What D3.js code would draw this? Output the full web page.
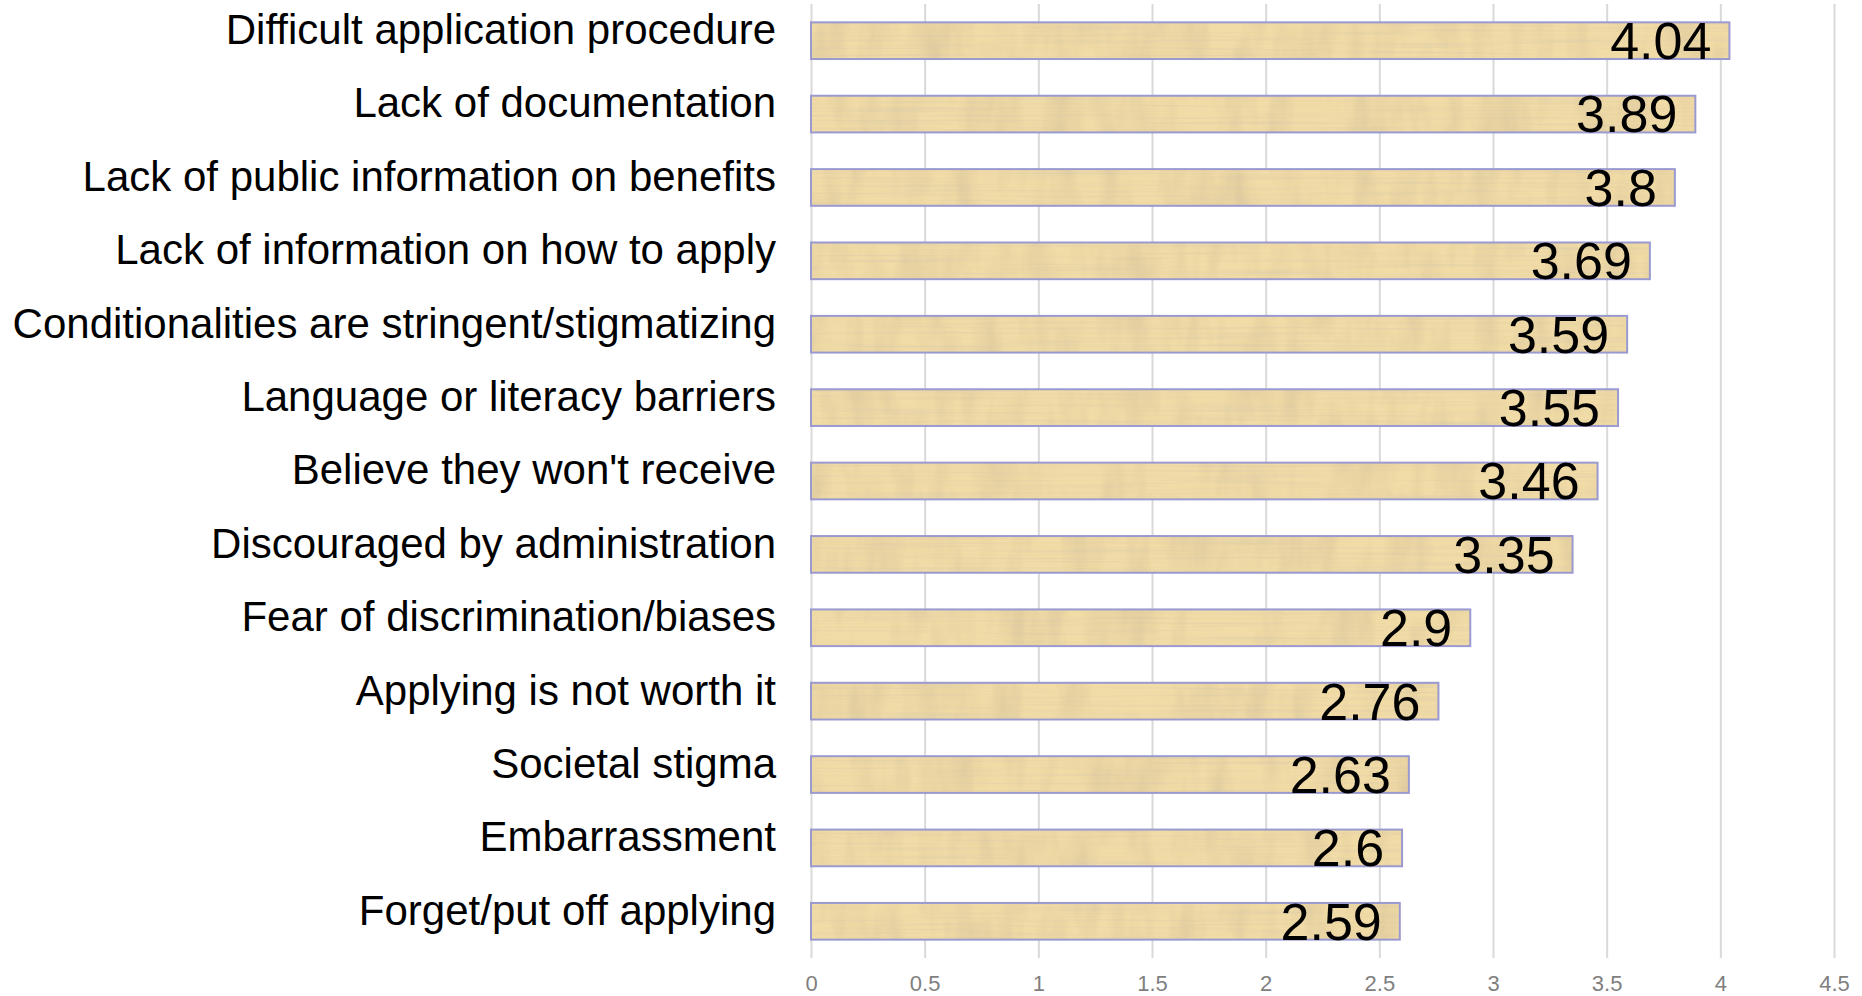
<!DOCTYPE html>
<html>
<head>
<meta charset="utf-8">
<script src="https://cdn.jsdelivr.net/npm/d3@7"></script>
<style>
  html, body { margin: 0; padding: 0; background: #fff; }
  svg { display: block; font-family: "Liberation Sans", Arial, Helvetica, sans-serif; }
</style>
</head>
<body>
<svg id="chart" width="1862" height="996"></svg>
<script>
// Reasons given for not applying for benefits, mean score
const categories = [
  "Difficult application procedure",
  "Lack of documentation",
  "Lack of public information on benefits",
  "Lack of information on how to apply",
  "Conditionalities are stringent/stigmatizing",
  "Language or literacy barriers",
  "Believe they won't receive",
  "Discouraged by administration",
  "Fear of discrimination/biases",
  "Applying is not worth it",
  "Societal stigma",
  "Embarrassment",
  "Forget/put off applying"
];
const values = [4.04, 3.89, 3.8, 3.69, 3.59, 3.55, 3.46, 3.35, 2.9, 2.76, 2.63, 2.6, 2.59];
const xTicks = [0, 0.5, 1, 1.5, 2, 2.5, 3, 3.5, 4, 4.5];
const xTickLabels = ["0", "0.5", "1", "1.5", "2", "2.5", "3", "3.5", "4", "4.5"];

const svg = d3.select("#chart");
const plot = { left: 811, right: 1834, top: 4, bottom: 958 };

const x = d3.scaleLinear().domain([0, 4.5]).range([plot.left, plot.right]);
const y = d3.scaleBand().domain(categories).range([plot.top, plot.bottom])
  .paddingInner(0.5).paddingOuter(0.25);

// Parchment texture for the bar fills: soft vertical fibres plus faint horizontal grain
const defs = svg.append("defs");
const f = defs.append("filter").attr("id", "parchment")
  .attr("filterUnits", "userSpaceOnUse")
  .attr("x", 0).attr("y", 0).attr("width", 1862).attr("height", 996);
f.append("feTurbulence").attr("type", "fractalNoise")
  .attr("baseFrequency", "0.04 0.012").attr("numOctaves", 3).attr("seed", 11).attr("result", "noise");
f.append("feColorMatrix").attr("in", "noise").attr("type", "matrix")
  .attr("values", "0 0 0 0 0.66  0 0 0 0 0.53  0 0 0 0 0.32  1.1 0 0 0 -0.44")
  .attr("result", "streaks");
f.append("feTurbulence").attr("type", "fractalNoise")
  .attr("baseFrequency", "0.006 0.40").attr("numOctaves", 2).attr("seed", 3).attr("result", "noise2");
f.append("feColorMatrix").attr("in", "noise2").attr("type", "matrix")
  .attr("values", "0 0 0 0 0.62  0 0 0 0 0.55  0 0 0 0 0.42  0.9 0 0 0 -0.42")
  .attr("result", "lines");
f.append("feComposite").attr("in", "streaks").attr("in2", "SourceGraphic").attr("operator", "in").attr("result", "s2");
f.append("feComposite").attr("in", "lines").attr("in2", "SourceGraphic").attr("operator", "in").attr("result", "l2");
const merge = f.append("feMerge");
merge.append("feMergeNode").attr("in", "SourceGraphic");
merge.append("feMergeNode").attr("in", "s2");
merge.append("feMergeNode").attr("in", "l2");

// Vertical gridlines and value-axis labels
const xAxis = d3.axisBottom(x)
  .tickValues(xTicks)
  .tickFormat((d, i) => xTickLabels[i])
  .tickSize(-(plot.bottom - plot.top))
  .tickPadding(17);
const gx = svg.append("g").attr("transform", `translate(0,${plot.bottom})`).call(xAxis);
gx.select(".domain").remove();
gx.selectAll(".tick line").attr("stroke", "#d9d9d9").attr("stroke-width", 2);
gx.selectAll(".tick text").attr("fill", "#7f7f7f").style("font-size", "22px")
  .style("font-family", "'Liberation Sans', Arial, sans-serif");

// Bars: textured fill, then outline
svg.append("g").attr("filter", "url(#parchment)")
  .selectAll("rect").data(values).join("rect")
  .attr("x", x(0))
  .attr("y", (d, i) => y(categories[i]))
  .attr("width", d => x(d) - x(0))
  .attr("height", y.bandwidth())
  .attr("fill", "#f1dba6");

svg.append("g").selectAll("rect").data(values).join("rect")
  .attr("x", x(0))
  .attr("y", (d, i) => y(categories[i]))
  .attr("width", d => x(d) - x(0))
  .attr("height", y.bandwidth())
  .attr("fill", "none")
  .attr("stroke", "#9a9ad0")
  .attr("stroke-width", 2);

// Category labels
const yAxis = d3.axisLeft(y).tickSize(0).tickPadding(35);
const gy = svg.append("g").attr("transform", `translate(${plot.left},0)`).call(yAxis);
gy.select(".domain").remove();
gy.selectAll(".tick text")
  .attr("dy", "0.08em")
  .attr("fill", "#000")
  .style("font-size", "42px")
  .style("font-family", "'Liberation Sans', Arial, sans-serif");

// Value labels inside bar ends
svg.append("g").selectAll("text").data(values).join("text")
  .attr("x", d => x(d) - 18)
  .attr("y", (d, i) => y(categories[i]) + y.bandwidth())
  .attr("text-anchor", "end")
  .attr("fill", "#000")
  .style("font-size", "52px")
  .text(d => String(d));
</script>
</body>
</html>
